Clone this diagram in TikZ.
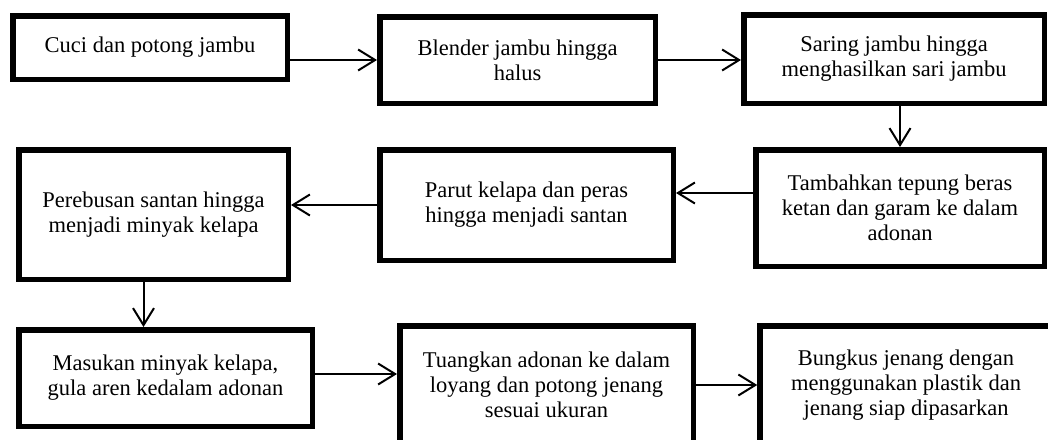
\documentclass[tikz,border=0pt]{standalone}
\usepackage{fontspec}
\setmainfont{Liberation Serif}
\usetikzlibrary{positioning,arrows.meta,calc}

\begin{document}
\begin{tikzpicture}[x=1pt,y=1pt,font=\fontsize{22.5}{25}\selectfont,
  stp/.style={rectangle,draw=black,line width=5.5pt,fill=white,align=center,inner sep=2pt},
  ar/.style={-{Straight Barb[length=17pt,width=21pt]},line width=2pt,black}]
\clip (0,0) rectangle (1048,-439);
% ---- top row ----
\node[stp,minimum width=274.5pt,minimum height=63.5pt] (c1) at (150,-47.5) {Cuci dan potong jambu};
\node[stp,minimum width=275.5pt,minimum height=86.5pt] (c2) at (517.5,-60) {Blender jambu hingga\\halus};
\node[stp,minimum width=300.5pt,minimum height=88.5pt] (c3) at (894,-59) {Saring jambu hingga\\menghasilkan sari jambu};
% ---- middle row ----
\node[stp,minimum width=288.5pt,minimum height=116.5pt] (c4) at (900,-208) {Tambahkan tepung beras\\ketan dan garam ke dalam\\adonan};
\node[stp,minimum width=293.5pt,minimum height=110.5pt] (c5) at (526.5,-205) {Parut kelapa dan peras\\hingga menjadi santan};
\node[stp,minimum width=269.5pt,minimum height=129.5pt] (c6) at (153.5,-214.5) {Perebusan santan hingga\\menjadi minyak kelapa};
% ---- bottom row ----
\node[stp,minimum width=293.5pt,minimum height=96.5pt] (c7) at (165.5,-378) {Masukan minyak kelapa,\\gula aren kedalam adonan};
\node[stp,minimum width=293.5pt,minimum height=118pt] (c8) at (546.5,-385) {Tuangkan adonan ke dalam\\loyang dan potong jenang\\sesuai ukuran};
\node[stp,minimum width=292pt,minimum height=118pt] (c9) at (906,-385) {Bungkus jenang dengan\\menggunakan plastik dan\\jenang siap dipasarkan};
% ---- arrows ----
\draw[ar] (c1.east |- c2.west) -- (c2.west);
\draw[ar] (c2.east) -- (c2.east -| c3.west);
\draw[ar] (c4.north |- c3.south) -- (c4.north);
\draw[ar] ([yshift=15pt]c4.west) -- ([yshift=15pt]c4.west -| c5.east);
\draw[ar] (c5.west) -- (c5.west -| c6.east);
\draw[ar] ([xshift=-10pt]c6.south) -- ([xshift=-10pt]c6.south |- c7.north);
\draw[ar] ([yshift=4pt]c7.east) -- ([yshift=4pt]c7.east -| c8.west);
\draw[ar] (c8.east) -- (c8.east -| c9.west);
\end{tikzpicture}
\end{document}
